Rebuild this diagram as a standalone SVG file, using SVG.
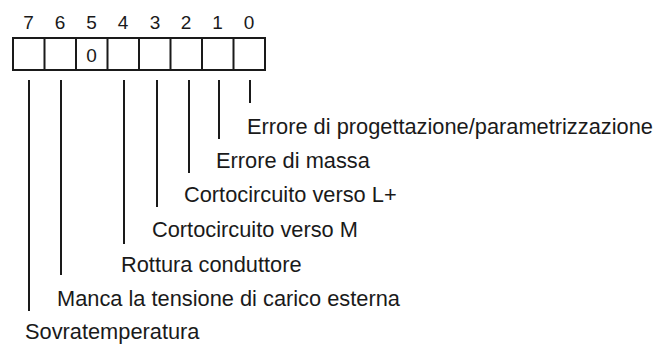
<svg xmlns="http://www.w3.org/2000/svg" width="658" height="344" viewBox="0 0 658 344">
<style>
.num{font-family:"Liberation Sans",Arial,sans-serif;font-size:19px;fill:#1a1a1a;text-anchor:middle}
.lbl{font-family:"Liberation Sans",Arial,sans-serif;font-size:21.8px;fill:#1a1a1a}
.cell{fill:#fff;stroke:#1a1a1a;stroke-width:2}
.ln{stroke:#1a1a1a;stroke-width:2;fill:none}
</style>
<rect width="658" height="344" fill="#fff"/>
<g id="register">
<rect class="cell" x="13" y="38" width="252" height="32"/>
<path class="ln" d="M44.5 38V70M76 38V70M107.5 38V70M139 38V70M170.5 38V70M202 38V70M233.5 38V70"/>
<text class="num" x="91.5" y="62">0</text>
</g>
<g id="bit-numbers">
<text class="num" x="28.5" y="29">7</text>
<text class="num" x="60" y="29">6</text>
<text class="num" x="91.5" y="29">5</text>
<text class="num" x="123" y="29">4</text>
<text class="num" x="155" y="29">3</text>
<text class="num" x="186" y="29">2</text>
<text class="num" x="217.5" y="29">1</text>
<text class="num" x="249" y="29">0</text>
</g>
<g id="connectors">
<path class="ln" d="M29 80V311"/>
<path class="ln" d="M61 80V275"/>
<path class="ln" d="M124 80V244"/>
<path class="ln" d="M157 80V207"/>
<path class="ln" d="M189 80V173"/>
<path class="ln" d="M219 80V139"/>
<path class="ln" d="M250 80V103"/>
</g>
<g id="labels">
<text id="bit0" class="lbl" x="247" y="134">Errore di progettazione/parametrizzazione</text>
<text id="bit1" class="lbl" x="216" y="168">Errore di massa</text>
<text id="bit2" class="lbl" x="184" y="202">Cortocircuito verso L+</text>
<text id="bit3" class="lbl" x="152" y="237">Cortocircuito verso M</text>
<text id="bit4" class="lbl" x="121" y="272">Rottura conduttore</text>
<text id="bit6" class="lbl" x="57" y="306">Manca la tensione di carico esterna</text>
<text id="bit7" class="lbl" x="25" y="339">Sovratemperatura</text>
</g>
</svg>
